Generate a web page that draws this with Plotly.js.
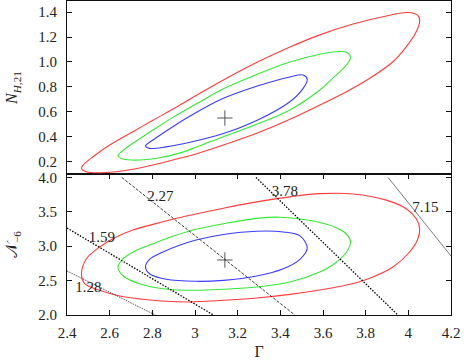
<!DOCTYPE html>
<html>
<head>
<meta charset="utf-8">
<script src="https://cdn.plot.ly/plotly-3.0.1.min.js"></script>
<style>html,body{margin:0;padding:0;background:#fff;}#chart{width:464px;height:360px;}</style>
</head>
<body>
<div id="chart"></div>
<script>
// ---- Top panel contours: Gamma vs N_H,21 ----
const topRedG = [2.468,2.476,2.522,2.600,2.709,2.803,2.912,3.005,3.133,3.289,3.445,3.585,3.741,3.897,3.998,4.045,4.053,4.037,3.990,3.928,3.819,3.710,3.585,3.445,3.289,3.133,3.005,2.896,2.803,2.709,2.631,2.553,2.491];
const topRedN = [0.146,0.172,0.239,0.333,0.440,0.532,0.636,0.730,0.855,0.995,1.120,1.218,1.305,1.370,1.398,1.375,1.323,1.243,1.122,1.002,0.869,0.761,0.654,0.540,0.427,0.333,0.261,0.212,0.172,0.138,0.118,0.110,0.118];
const topGreenG = [2.639,2.655,2.709,2.803,2.896,3.005,3.133,3.289,3.445,3.585,3.663,3.710,3.729,3.710,3.647,3.585,3.445,3.289,3.133,3.005,2.927,2.834,2.740,2.663];
const topGreenN = [0.245,0.279,0.347,0.453,0.555,0.662,0.785,0.900,1.000,1.062,1.082,1.078,1.037,0.976,0.872,0.775,0.615,0.500,0.400,0.315,0.268,0.230,0.212,0.220];
const topBlueG = [2.768,2.803,2.896,2.977,3.133,3.289,3.445,3.507,3.526,3.507,3.445,3.289,3.133,2.977,2.865,2.787];
const topBlueN = [0.325,0.373,0.480,0.566,0.708,0.805,0.880,0.895,0.861,0.788,0.681,0.530,0.425,0.355,0.318,0.306];
const bestTopG = [3.14], bestTopN = [0.55];

// ---- Bottom panel contours: Gamma vs N_-6 ----
const botRedG = [2.468,2.491,2.553,2.631,2.709,2.803,2.896,2.977,3.133,3.289,3.445,3.585,3.741,3.897,3.990,4.037,4.053,4.045,4.006,3.928,3.819,3.710,3.585,3.445,3.289,3.133,2.977,2.865,2.756,2.647,2.553,2.483];
const botRedN = [2.600,2.818,2.988,3.134,3.235,3.318,3.392,3.450,3.553,3.645,3.718,3.765,3.760,3.670,3.545,3.400,3.254,3.109,2.916,2.698,2.535,2.435,2.363,2.300,2.247,2.214,2.189,2.199,2.228,2.276,2.359,2.455];
const botGreenG = [2.639,2.663,2.725,2.803,2.896,3.005,3.133,3.289,3.398,3.492,3.585,3.647,3.702,3.729,3.710,3.647,3.585,3.445,3.289,3.133,3.005,2.850,2.740,2.670];
const botGreenN = [2.683,2.818,2.940,3.036,3.144,3.246,3.327,3.405,3.422,3.395,3.345,3.290,3.200,3.071,2.916,2.730,2.625,2.480,2.407,2.374,2.359,2.382,2.455,2.552];
const botBlueG = [2.768,2.787,2.850,2.927,3.005,3.133,3.289,3.414,3.492,3.526,3.492,3.414,3.289,3.133,3.005,2.865,2.787];
const botBlueN = [2.698,2.810,2.916,3.013,3.090,3.170,3.218,3.208,3.150,2.974,2.810,2.673,2.567,2.504,2.490,2.519,2.600];
const bestBotG = [3.14], bestBotN = [2.80];

// ---- Constant lines (dotted) and their labels ----
const levelLabels = ['1.28','1.59','2.27','3.78','7.15'];
const levelG = [[2.4,2.814],[2.4,3.086],[2.657,3.468],[3.286,3.951],[3.905,4.2]];
const levelN = [[2.64,2.0],[3.265,2.0],[4.0,2.0],[4.0,2.0],[4.0,2.858]];
const labelG = [2.50,2.563,2.838,3.421,4.080];
const labelN = [2.395,3.12,3.705,3.78,3.558];

// ---- Axis ticks ----
const xTicks = [2.4,2.6,2.8,3,3.2,3.4,3.6,3.8,4,4.2];
const xTickText = ['2.4','2.6','2.8','3','3.2','3.4','3.6','3.8','4','4.2'];
const yTopTicks = [0.2,0.4,0.6,0.8,1.0,1.2,1.4];
const yTopText = ['0.2','0.4','0.6','0.8','1.0','1.2','1.4'];
const yBotTicks = [2.0,2.5,3.0,3.5,4.0];
const yBotText = ['2.0','2.5','3.0','3.5','4.0'];

const RED = '#ff3b3b', GREEN = '#35e835', BLUE = '#3b3bff';
const FONT = 'Liberation Serif, DejaVu Serif, serif';

function closed(a){ return a.concat([a[0]]); }
function contour(g, n, color, xa, ya){
  return {x: closed(g), y: closed(n), xaxis: xa, yaxis: ya, mode: 'lines',
    line: {color: color, width: 1.1, shape: 'spline', smoothing: 1}, hoverinfo: 'skip', showlegend: false};
}

const traces = [
  contour(topRedG, topRedN, RED, 'x2', 'y2'),
  contour(topGreenG, topGreenN, GREEN, 'x2', 'y2'),
  contour(topBlueG, topBlueN, BLUE, 'x2', 'y2'),
  {x: bestTopG, y: bestTopN, xaxis: 'x2', yaxis: 'y2', mode: 'markers',
    marker: {symbol: 'cross-thin-open', size: 11, color: '#555', line: {color: '#555', width: 1}}, showlegend: false},
  contour(botRedG, botRedN, RED, 'x', 'y'),
  contour(botGreenG, botGreenN, GREEN, 'x', 'y'),
  contour(botBlueG, botBlueN, BLUE, 'x', 'y'),
  {x: bestBotG, y: bestBotN, xaxis: 'x', yaxis: 'y', mode: 'markers',
    marker: {symbol: 'cross-thin-open', size: 11, color: '#555', line: {color: '#555', width: 1}}, showlegend: false}
];

const lineStyles = [
  {dash: '1px,1px', width: 0.9, color: '#222'},
  {dash: '1.5px,1.5px', width: 1.3, color: '#000'},
  {dash: '3px,1.5px', width: 0.9, color: '#222'},
  {dash: '1.5px,1.5px', width: 1.3, color: '#000'},
  {dash: 'solid', width: 0.8, color: '#555'}
];
levelLabels.forEach(function(lbl, i){
  traces.push({x: levelG[i], y: levelN[i], xaxis: 'x', yaxis: 'y', mode: 'lines',
    line: lineStyles[i], hoverinfo: 'skip', showlegend: false});
});
traces.push({x: labelG, y: labelN, xaxis: 'x', yaxis: 'y', mode: 'text', text: levelLabels,
  textfont: {family: FONT, size: 15, color: '#222'}, cliponaxis: false, showlegend: false, hoverinfo: 'skip'});

const axCommon = {
  showline: true, linecolor: '#111', linewidth: 1, mirror: 'ticks',
  ticks: 'inside', ticklen: 5, tickwidth: 1, tickcolor: '#111',
  showgrid: false, zeroline: false,
  tickfont: {family: FONT, size: 15, color: '#222'}, tickmode: 'array'
};

const layout = {
  width: 464, height: 360,
  margin: {l: 66.5, r: 12.5, t: 1, b: 45},
  paper_bgcolor: '#fff', plot_bgcolor: '#fff',
  showlegend: false,
  xaxis: Object.assign({}, axCommon, {anchor: 'y', range: [2.4, 4.2], tickvals: xTicks, ticktext: xTickText,
    ticklabelstandoff: 4,
    title: {text: 'Γ', font: {family: FONT, size: 16, color: '#222'}, standoff: 8}}),
  yaxis: Object.assign({}, axCommon, {domain: [0, 0.449], range: [2.0, 4.05], tickvals: yBotTicks, ticktext: yBotText,
    ticklabelstandoff: 6,
    title: {text: '𝒩<sub>−6</sub>', font: {family: FONT, size: 16, color: '#222'}, standoff: 16}}),
  xaxis2: {anchor: 'y2', matches: 'x', range: [2.4, 4.2], showline: true, linecolor: '#111', linewidth: 1, mirror: true,
    ticks: '', showticklabels: false, showgrid: false, zeroline: false},
  yaxis2: Object.assign({}, axCommon, {domain: [0.449, 1], range: [0.1, 1.49], tickvals: yTopTicks, ticktext: yTopText,
    ticklabelstandoff: 6,
    title: {text: '<i>N</i><sub><i>H</i>,21</sub>', font: {family: FONT, size: 16, color: '#222'}, standoff: 16}})
};

Plotly.newPlot('chart', traces, layout, {staticPlot: true, displayModeBar: false});
</script>
</body>
</html>
